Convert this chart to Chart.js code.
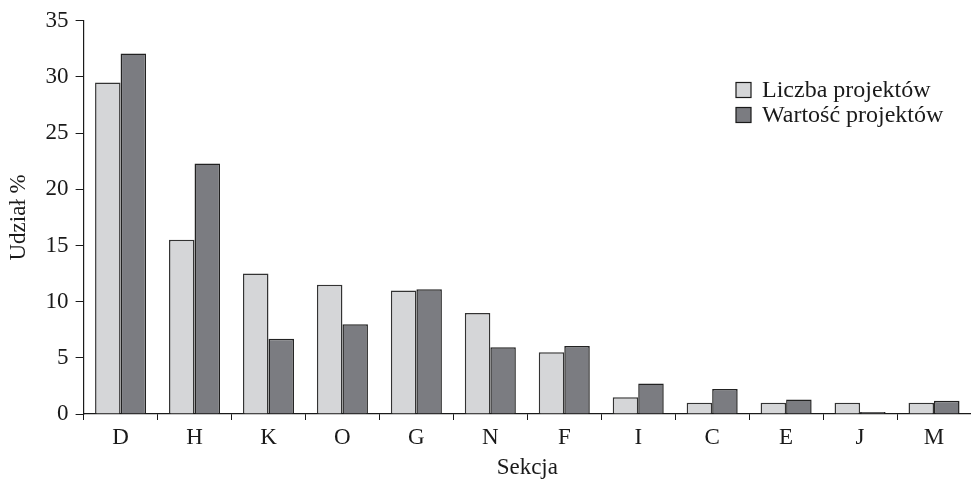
<!DOCTYPE html>
<html>
<head>
<meta charset="utf-8">
<script src="https://cdn.jsdelivr.net/npm/chart.js@4/dist/chart.umd.min.js"></script>
<style>
    html, body { margin: 0; padding: 0; background: #fff; }
    #wrap { width: 971px; height: 479px; }
</style>
</head>
<body>
<div id="wrap"><canvas id="chart" width="971" height="479"></canvas></div>
<script>
// Data
const sections = ["D", "H", "K", "O", "G", "N", "F", "I", "C", "E", "J", "M"];
const projectCount = [29.5, 15.5, 12.5, 11.5, 11.0, 9.0, 5.5, 1.5, 1.0, 1.0, 1.0, 1.0];
const projectValue = [32.1, 22.3, 6.7, 8.0, 11.1, 5.95, 6.05, 2.72, 2.22, 1.3, 0.18, 1.18];
const yTicks = [0, 5, 10, 15, 20, 25, 30, 35];

const serif = "'Liberation Serif', 'Times New Roman', serif";
const ink = '#1a1a1a';

/**
 * Legend drawn at a fixed spot inside the plot, like the original
 */
const boxLegend = {
    id: 'boxLegend',
    afterDraw(chart) {
        const ctx = chart.ctx;
        const x = 736, y0 = 90, step = 25, box = 15;
        ctx.save();
        ctx.font = '24px ' + serif;
        ctx.textBaseline = 'middle';
        chart.data.datasets.forEach((ds, i) => {
            const y = y0 + i * step;
            ctx.fillStyle = ds.backgroundColor;
            ctx.fillRect(x, y - box / 2, box, box);
            ctx.strokeStyle = ink;
            ctx.lineWidth = 1.2;
            ctx.strokeRect(x, y - box / 2, box, box);
            ctx.fillStyle = ink;
            ctx.fillText(ds.label, x + 26, y + 1);
        });
        ctx.restore();
    }
};

new Chart(document.getElementById('chart').getContext('2d'), {
    type: 'bar',
    data: {
        labels: sections,
        datasets: [
            {
                label: 'Liczba projektów',
                data: projectCount,
                backgroundColor: '#d5d6d8',
                borderColor: '#333',
                borderWidth: 1.5,
                categoryPercentage: 0.69,
                barPercentage: 1.0
            },
            {
                label: 'Wartość projektów',
                data: projectValue,
                backgroundColor: '#7b7c81',
                borderColor: '#222',
                borderWidth: 1.5,
                categoryPercentage: 0.69,
                barPercentage: 1.0
            }
        ]
    },
    options: {
        responsive: false,
        animation: false,
        devicePixelRatio: 1,
        layout: { padding: { top: 14, right: 0, bottom: 0, left: 5 } },
        plugins: {
            legend: { display: false },
            tooltip: { enabled: false }
        },
        scales: {
            x: {
                grid: { display: true, drawOnChartArea: false, tickLength: 6, color: ink, offset: true },
                border: { color: ink, width: 1.2 },
                ticks: { color: ink, font: { family: serif, size: 23, lineHeight: 1.0 }, padding: 6 },
                title: { display: true, text: 'Sekcja', color: ink, font: { family: serif, size: 23, lineHeight: 1.0 }, padding: { top: 1, bottom: 0 } }
            },
            y: {
                min: 0,
                max: 35,
                afterBuildTicks: (axis) => { axis.ticks = yTicks.map(v => ({ value: v })); },
                grid: { display: true, drawOnChartArea: false, tickLength: 8, color: ink },
                border: { color: ink, width: 1.2 },
                ticks: { color: ink, font: { family: serif, size: 23 }, padding: 7 },
                title: { display: true, text: 'Udział %', color: ink, font: { family: serif, size: 23 }, padding: { top: 0, bottom: 6 } }
            }
        }
    },
    plugins: [boxLegend]
});
</script>
</body>
</html>
